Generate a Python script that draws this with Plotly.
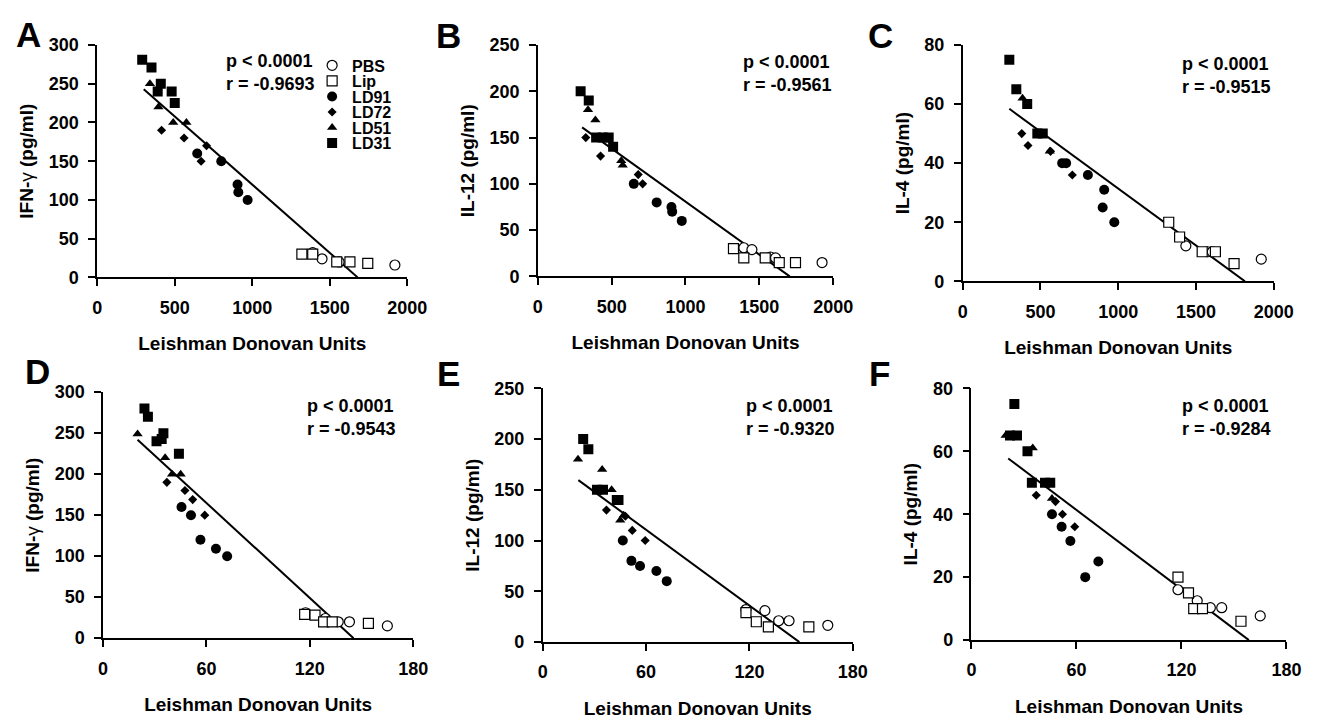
import plotly.graph_objects as go

W, H = 1331, 725
FONT = "Liberation Sans, Arial, Helvetica, sans-serif"

# ---------------- data (x = Leishman Donovan Units, y = cytokine pg/ml) ----------------
GROUPS = ["PBS", "Lip", "LD91", "LD72", "LD51", "LD31"]

# Panel A : IFN-gamma vs LDU
A_PBS = [(1390, 32), (1450, 24), (1560, 20), (1920, 16)]
A_Lip = [(1320, 30), (1390, 30), (1545, 20), (1630, 20), (1745, 18)]
A_LD91 = [(645, 160), (800, 150), (905, 120), (910, 110), (970, 100)]
A_LD72 = [(415, 190), (560, 180), (670, 150), (705, 170)]
A_LD51 = [(340, 250), (395, 220), (490, 200), (575, 200)]
A_LD31 = [(290, 281), (350, 271), (410, 250), (390, 240), (480, 240), (500, 225)]
A_fit_x, A_fit_y = [300, 1680], [243, 0]

# Panel B : IL-12 vs LDU
B_PBS = [(1395, 31), (1450, 29), (1575, 21), (1610, 20), (1925, 15)]
B_Lip = [(1325, 30), (1395, 20), (1540, 20), (1635, 15), (1745, 15)]
B_LD91 = [(650, 100), (805, 80), (905, 75), (910, 70), (975, 60)]
B_LD72 = [(325, 150), (425, 130), (680, 110), (710, 100)]
B_LD51 = [(340, 180), (390, 169), (565, 125), (575, 120)]
B_LD31 = [(290, 200), (345, 190), (395, 150), (440, 150), (480, 150), (510, 140)]
B_fit_x, B_fit_y = [300, 1706], [161, 0]

# Panel C : IL-4 vs LDU
C_PBS = [(1435, 12), (1575, 10), (1605, 10), (1920, 7.5)]
C_Lip = [(1325, 20), (1395, 15), (1540, 10), (1625, 10), (1745, 6)]
C_LD91 = [(640, 40), (665, 40), (805, 36), (910, 31), (900, 25), (975, 20)]
C_LD72 = [(380, 50), (420, 46), (565, 44), (705, 36)]
C_LD51 = [(385, 62), (560, 44)]
C_LD31 = [(300, 75), (345, 65), (415, 60), (480, 50), (515, 50)]
C_fit_x, C_fit_y = [300, 1815], [58.4, 0]

# Panel D : IFN-gamma vs LDU (second scale)
D_PBS = [(117.5, 31), (129, 24), (136.5, 20), (143, 20), (165, 15)]
D_Lip = [(117, 29), (123, 28), (128, 20), (133, 20), (154, 18)]
D_LD91 = [(45.5, 160), (51, 150), (56.5, 120), (65.5, 109), (72, 100)]
D_LD72 = [(37, 190), (47.5, 180), (52, 169), (59, 150)]
D_LD51 = [(20, 249), (36, 220), (40, 200), (45, 200)]
D_LD31 = [(24, 280), (26, 270), (31, 240), (35, 250), (34, 243), (44, 225)]
D_fit_x, D_fit_y = [20, 145.4], [242, 0]

# Panel E : IL-12 vs LDU (second scale)
E_PBS = [(118, 32), (129, 31), (137, 21), (143, 21), (165.5, 16.5)]
E_Lip = [(118, 29), (124, 20), (131, 15), (154.5, 15)]
E_LD91 = [(46.5, 100), (51.5, 80), (56.5, 75), (66, 70), (72, 60)]
E_LD72 = [(37, 130), (48, 124), (52, 110), (59.5, 100)]
E_LD51 = [(20.5, 180), (34.5, 170), (40, 150), (45, 120), (47, 125)]
E_LD31 = [(23.5, 200), (26.5, 190), (31.5, 150), (35, 150), (43, 140), (44, 140)]
E_fit_x, E_fit_y = [20.7, 149], [159.5, 0]

# Panel F : IL-4 vs LDU (second scale)
F_PBS = [(118, 16), (129, 12.5), (136.5, 10.3), (143, 10.3), (165, 7.7)]
F_Lip = [(118, 20), (124, 15), (127, 10), (132, 10), (154, 6)]
F_LD91 = [(46, 40), (51.5, 36), (56.5, 31.5), (65, 20), (72.5, 25)]
F_LD72 = [(37, 46), (48, 44), (52, 40), (59, 36)]
F_LD51 = [(19.5, 65), (35, 61), (46, 45)]
F_LD31 = [(24.5, 75), (22, 65), (26, 65), (32, 60), (34.5, 50), (42, 50), (45, 50)]
F_fit_x, F_fit_y = [21, 158.5], [57.7, 0]

STATS = {
    "A": ("p < 0.0001", "r = -0.9693"),
    "B": ("p < 0.0001", "r = -0.9561"),
    "C": ("p < 0.0001", "r = -0.9515"),
    "D": ("p < 0.0001", "r = -0.9543"),
    "E": ("p < 0.0001", "r = -0.9320"),
    "F": ("p < 0.0001", "r = -0.9284"),
}
Y_TITLES = {
    "A": "IFN-<span style='font-weight:normal'>γ</span> (pg/ml)",
    "B": "IL-12 (pg/ml)",
    "C": "IL-4 (pg/ml)",
    "D": "IFN-<span style='font-weight:normal'>γ</span> (pg/ml)",
    "E": "IL-12 (pg/ml)",
    "F": "IL-4 (pg/ml)",
}
X_TITLE = "Leishman Donovan Units"
X_TICKS_TOP = [0, 500, 1000, 1500, 2000]
X_TICKS_BOT = [0, 60, 120, 180]
Y_TICKS_IFN = [0, 50, 100, 150, 200, 250, 300]
Y_TICKS_IL12 = [0, 50, 100, 150, 200, 250]
Y_TICKS_IL4 = [0, 20, 40, 60, 80]

PANEL_DATA = {
    "A": [A_PBS, A_Lip, A_LD91, A_LD72, A_LD51, A_LD31, A_fit_x, A_fit_y],
    "B": [B_PBS, B_Lip, B_LD91, B_LD72, B_LD51, B_LD31, B_fit_x, B_fit_y],
    "C": [C_PBS, C_Lip, C_LD91, C_LD72, C_LD51, C_LD31, C_fit_x, C_fit_y],
    "D": [D_PBS, D_Lip, D_LD91, D_LD72, D_LD51, D_LD31, D_fit_x, D_fit_y],
    "E": [E_PBS, E_Lip, E_LD91, E_LD72, E_LD51, E_LD31, E_fit_x, E_fit_y],
    "F": [F_PBS, F_Lip, F_LD91, F_LD72, F_LD51, F_LD31, F_fit_x, F_fit_y],
}

# ---------------- styling / layout ----------------
# plot-area pixel boxes: (left, right, top, bottom)
BOX = {
    "A": (94, 410, 36, 275),
    "B": (543, 844, 36, 274),
    "C": (976, 1293, 36, 279),
    "D": (100, 416, 393, 646),
    "E": (548, 864, 389, 650),
    "F": (985, 1306, 389, 648),
}
XRANGE = {"A": 2000, "B": 2000, "C": 2000, "D": 180, "E": 180, "F": 180}
YTICKS = {"A": Y_TICKS_IFN, "B": Y_TICKS_IL12, "C": Y_TICKS_IL4,
          "D": Y_TICKS_IFN, "E": Y_TICKS_IL12, "F": Y_TICKS_IL4}
LETTER_POS = {"A": (9, 25), "B": (437, 26), "C": (877, 26),
              "D": (18, 372), "E": (438, 374), "F": (878, 374)}
STAT_POS = {"A": (223, 64), "B": (750, 65), "C": (1198, 67.5),
            "D": (306, 419), "E": (753, 419), "F": (1197, 419)}

SYMBOLS = {
    "PBS": dict(symbol="circle", size=10, color="white", line=dict(color="black", width=1.2)),
    "Lip": dict(symbol="square", size=10, color="white", line=dict(color="black", width=1.2)),
    "LD91": dict(symbol="circle", size=10, color="black", line=dict(width=0)),
    "LD72": dict(symbol="diamond", size=7, color="black", line=dict(width=0)),
    "LD51": dict(symbol="triangle-up", size=9, color="black", line=dict(width=0)),
    "LD31": dict(symbol="square", size=10, color="black", line=dict(width=0)),
}
LEGEND_ROWS = [57, 73, 89, 105, 121, 137]  # pixel centre of each legend row


def fx(px):
    return px / W


def fy(py):
    return 1 - py / H


fig = go.Figure()
tick_font = dict(family=FONT, size=18, color="black", weight="bold")
title_font = dict(family=FONT, size=19, color="black", weight="bold")

for i, key in enumerate(["A", "B", "C", "D", "E", "F"]):
    n = "" if i == 0 else str(i + 1)
    xa, ya = "x" + n, "y" + n
    groups = PANEL_DATA[key][:6]
    fit_x, fit_y = PANEL_DATA[key][6], PANEL_DATA[key][7]

    fig.add_trace(go.Scatter(x=fit_x, y=fit_y, mode="lines",
                             line=dict(color="black", width=2),
                             xaxis=xa, yaxis=ya, showlegend=False, hoverinfo="skip"))
    for gi, (gname, pts) in enumerate(zip(GROUPS, groups)):
        tr = dict(x=[p[0] for p in pts], y=[p[1] for p in pts], mode="markers",
                  marker=SYMBOLS[gname], name=gname, xaxis=xa, yaxis=ya,
                  showlegend=(key == "A"))
        if key == "A":
            tr["legend"] = "legend" if gi == 0 else "legend" + str(gi + 1)
        fig.add_trace(go.Scatter(**tr))

    l, r, t, b = BOX[key]
    top_row = key in "ABC"
    fig.layout["xaxis" + n] = dict(
        domain=[fx(l), fx(r)], anchor=ya, range=[0, XRANGE[key]],
        tickvals=X_TICKS_TOP if top_row else X_TICKS_BOT,
        showline=True, linecolor="black", linewidth=1.5, ticks="outside",
        ticklen=7, tickwidth=1.5, tickcolor="black", showgrid=False, zeroline=False,
        tickfont=tick_font, ticklabelstandoff=6,
        title=dict(text=X_TITLE, font=title_font, standoff=20),
        fixedrange=True,
    )
    yt = YTICKS[key]
    fig.layout["yaxis" + n] = dict(
        domain=[fy(b), fy(t)], anchor=xa, range=[0, yt[-1]], tickvals=yt,
        showline=True, linecolor="black", linewidth=1.5, ticks="outside",
        ticklen=7, tickwidth=1.5, tickcolor="black", showgrid=False, zeroline=False,
        tickfont=tick_font, ticklabelstandoff=6,
        title=dict(text=Y_TITLES[key], font=title_font, standoff=10),
        fixedrange=True,
    )

    lx, ly = LETTER_POS[key]
    fig.add_annotation(text=key, xref="paper", yref="paper", x=fx(lx), y=fy(ly),
                       xanchor="left", yanchor="middle", showarrow=False,
                       font=dict(family=FONT, size=35, color="black", weight="bold"))
    sx, sy = STAT_POS[key]
    p_txt, r_txt = STATS[key]
    fig.add_annotation(text=p_txt + "<br>" + r_txt, xref="paper", yref="paper",
                       x=fx(sx), y=fy(sy), xanchor="left", yanchor="middle",
                       align="left", showarrow=False,
                       font=dict(family=FONT, size=18, color="black", weight="bold"))

legend_font = dict(family=FONT, size=16, color="black", weight="bold")
for gi, row in enumerate(LEGEND_ROWS):
    name = "legend" if gi == 0 else "legend" + str(gi + 1)
    fig.layout[name] = dict(x=fx(313), y=fy(row), xanchor="left", yanchor="middle",
                            bgcolor="rgba(0,0,0,0)", borderwidth=0, font=legend_font,
                            itemclick=False, itemdoubleclick=False)

fig.update_layout(width=W, height=H, margin=dict(l=0, r=0, t=0, b=0),
                  paper_bgcolor="white", plot_bgcolor="white",
                  font=dict(family=FONT, color="black"))

fig.write_html("out.html", config={"displayModeBar": False},
               post_script="document.body.style.margin='0';document.body.style.overflow='hidden';")
